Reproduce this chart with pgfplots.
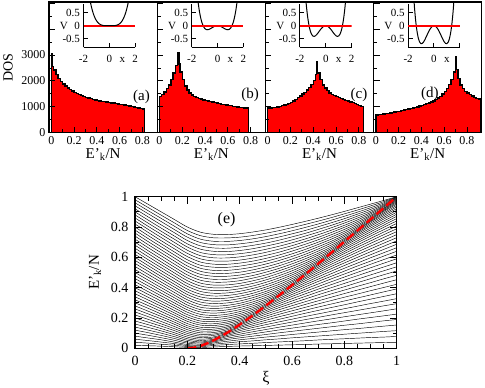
\documentclass[border=0pt]{standalone}
\usepackage{fontspec}
\setmainfont{Liberation Serif}
\usepackage{pgfplots}
\usepackage{pgfplotstable}
\pgfplotsset{compat=1.18}

\pgfplotstableread{
k   c0 c1 c2 c3 c4 c5 c6 c7 c8 c9 c10 c11 c12 c13 c14 c15 c16 c17 c18 c19 c20
xi  0 0.05 0.1 0.15 0.2 0.25 0.3 0.35 0.4 0.45 0.5 0.55 0.6 0.65 0.7 0.75 0.8 0.85 0.9 0.95 1
k0  0 0 0 0 0 0 0 0 0 0 0 0 0 0 0 0 0 0 0 0 0
k1  0.02 0.017 0.014 0.010 0.006 0.005 0.009 0.012 0.015 0.017 0.019 0.021 0.023 0.025 0.028 0.030 0.032 0.034 0.036 0.038 0.0396
k2  0.04 0.034 0.027 0.020 0.012 0.010 0.019 0.024 0.029 0.033 0.038 0.042 0.046 0.050 0.055 0.059 0.063 0.067 0.071 0.074 0.0784
k3  0.06 0.051 0.041 0.031 0.018 0.016 0.027 0.035 0.043 0.049 0.056 0.062 0.069 0.075 0.081 0.087 0.093 0.099 0.105 0.111 0.1164
k4  0.08 0.068 0.056 0.041 0.025 0.021 0.035 0.046 0.056 0.065 0.074 0.082 0.091 0.099 0.107 0.115 0.123 0.130 0.138 0.146 0.1536
k5  0.10 0.086 0.070 0.053 0.034 0.028 0.042 0.057 0.069 0.080 0.091 0.102 0.112 0.122 0.132 0.142 0.152 0.161 0.171 0.181 0.19
k6  0.12 0.103 0.085 0.065 0.043 0.035 0.048 0.066 0.081 0.095 0.108 0.121 0.133 0.145 0.157 0.168 0.180 0.192 0.203 0.214 0.2256
k7  0.14 0.120 0.100 0.077 0.053 0.042 0.054 0.076 0.093 0.109 0.124 0.139 0.153 0.167 0.181 0.194 0.208 0.221 0.234 0.247 0.2604
k8  0.16 0.138 0.115 0.090 0.063 0.051 0.060 0.084 0.105 0.123 0.140 0.157 0.173 0.189 0.204 0.220 0.235 0.250 0.265 0.280 0.2944
k9  0.18 0.156 0.130 0.103 0.074 0.060 0.068 0.092 0.116 0.137 0.156 0.174 0.192 0.210 0.227 0.244 0.261 0.278 0.295 0.311 0.3276
k10 0.20 0.173 0.146 0.117 0.086 0.070 0.075 0.099 0.126 0.149 0.171 0.191 0.211 0.231 0.250 0.269 0.287 0.306 0.324 0.342 0.36
k11 0.22 0.191 0.161 0.130 0.098 0.080 0.085 0.106 0.136 0.161 0.185 0.208 0.229 0.251 0.272 0.292 0.312 0.332 0.352 0.372 0.3916
k12 0.24 0.209 0.177 0.144 0.110 0.091 0.094 0.112 0.144 0.173 0.199 0.224 0.247 0.270 0.293 0.315 0.337 0.358 0.380 0.401 0.4224
k13 0.26 0.227 0.194 0.159 0.123 0.102 0.104 0.121 0.153 0.184 0.212 0.239 0.264 0.289 0.313 0.337 0.361 0.384 0.407 0.430 0.4524
k14 0.28 0.245 0.210 0.173 0.136 0.114 0.115 0.130 0.160 0.194 0.225 0.254 0.281 0.307 0.333 0.359 0.384 0.409 0.433 0.458 0.4816
k15 0.30 0.264 0.226 0.188 0.149 0.127 0.126 0.140 0.167 0.204 0.237 0.268 0.297 0.325 0.353 0.380 0.406 0.433 0.459 0.485 0.51
k16 0.32 0.282 0.243 0.203 0.163 0.139 0.138 0.150 0.176 0.212 0.248 0.281 0.312 0.342 0.372 0.400 0.428 0.456 0.484 0.511 0.5376
k17 0.34 0.300 0.260 0.219 0.178 0.153 0.150 0.162 0.185 0.220 0.259 0.294 0.327 0.359 0.390 0.420 0.450 0.479 0.508 0.536 0.5644
k18 0.36 0.319 0.277 0.234 0.192 0.166 0.162 0.173 0.195 0.227 0.269 0.306 0.342 0.375 0.407 0.439 0.470 0.501 0.531 0.561 0.5904
k19 0.38 0.337 0.294 0.250 0.207 0.180 0.176 0.185 0.206 0.236 0.277 0.318 0.355 0.390 0.424 0.458 0.490 0.522 0.554 0.585 0.6156
k20 0.40 0.356 0.311 0.267 0.222 0.194 0.189 0.198 0.217 0.246 0.285 0.328 0.368 0.405 0.441 0.475 0.509 0.543 0.575 0.608 0.64
k21 0.42 0.374 0.329 0.283 0.238 0.209 0.203 0.211 0.229 0.257 0.293 0.339 0.380 0.419 0.456 0.492 0.528 0.562 0.597 0.630 0.6636
k22 0.44 0.393 0.346 0.300 0.254 0.224 0.217 0.224 0.242 0.268 0.303 0.346 0.391 0.432 0.471 0.509 0.546 0.582 0.617 0.652 0.6864
k23 0.46 0.412 0.364 0.317 0.270 0.240 0.232 0.239 0.255 0.280 0.313 0.354 0.402 0.445 0.486 0.525 0.563 0.600 0.637 0.673 0.7084
k24 0.48 0.431 0.382 0.334 0.286 0.255 0.247 0.253 0.269 0.293 0.324 0.363 0.411 0.457 0.499 0.540 0.579 0.618 0.656 0.693 0.7296
k25 0.50 0.450 0.400 0.351 0.303 0.271 0.263 0.268 0.283 0.306 0.336 0.373 0.419 0.467 0.512 0.554 0.595 0.635 0.674 0.712 0.75
k26 0.52 0.469 0.419 0.369 0.320 0.288 0.278 0.283 0.297 0.320 0.349 0.384 0.427 0.477 0.524 0.568 0.610 0.651 0.692 0.731 0.7696
k27 0.54 0.488 0.437 0.387 0.337 0.305 0.295 0.299 0.312 0.334 0.362 0.396 0.437 0.486 0.535 0.581 0.625 0.667 0.708 0.749 0.7884
k28 0.56 0.508 0.456 0.405 0.355 0.322 0.311 0.315 0.328 0.348 0.375 0.408 0.447 0.494 0.545 0.593 0.638 0.682 0.724 0.766 0.8064
k29 0.58 0.527 0.474 0.423 0.372 0.339 0.328 0.331 0.344 0.363 0.390 0.421 0.459 0.502 0.554 0.604 0.651 0.696 0.740 0.782 0.8236
k30 0.60 0.546 0.493 0.441 0.390 0.357 0.345 0.348 0.360 0.379 0.404 0.435 0.471 0.513 0.562 0.615 0.663 0.709 0.754 0.798 0.84
k31 0.62 0.566 0.512 0.460 0.409 0.375 0.363 0.365 0.376 0.395 0.419 0.449 0.484 0.524 0.571 0.623 0.675 0.722 0.768 0.812 0.8556
k32 0.64 0.585 0.532 0.479 0.427 0.393 0.381 0.382 0.393 0.411 0.435 0.464 0.497 0.536 0.580 0.631 0.684 0.734 0.781 0.826 0.8704
k33 0.66 0.605 0.551 0.498 0.446 0.411 0.399 0.400 0.411 0.428 0.451 0.479 0.511 0.549 0.591 0.639 0.693 0.745 0.793 0.839 0.8844
k34 0.68 0.625 0.570 0.517 0.465 0.430 0.417 0.418 0.428 0.445 0.467 0.495 0.526 0.562 0.602 0.648 0.702 0.755 0.805 0.852 0.8976
k35 0.70 0.644 0.590 0.536 0.484 0.449 0.436 0.437 0.446 0.463 0.484 0.511 0.541 0.576 0.615 0.658 0.710 0.764 0.815 0.863 0.91
k36 0.72 0.664 0.610 0.556 0.504 0.468 0.455 0.455 0.465 0.480 0.502 0.527 0.557 0.590 0.627 0.669 0.718 0.771 0.825 0.874 0.9216
k37 0.74 0.684 0.630 0.576 0.523 0.488 0.475 0.475 0.483 0.499 0.519 0.544 0.573 0.605 0.641 0.681 0.726 0.778 0.834 0.884 0.9324
k38 0.76 0.704 0.650 0.596 0.543 0.508 0.494 0.494 0.502 0.517 0.537 0.561 0.589 0.620 0.655 0.694 0.737 0.785 0.840 0.893 0.9424
k39 0.78 0.724 0.670 0.616 0.564 0.528 0.514 0.514 0.522 0.536 0.556 0.579 0.606 0.636 0.670 0.706 0.747 0.794 0.847 0.902 0.9516
k40 0.80 0.744 0.690 0.636 0.584 0.548 0.535 0.534 0.542 0.556 0.574 0.597 0.623 0.652 0.685 0.720 0.759 0.803 0.854 0.908 0.96
k41 0.82 0.765 0.710 0.657 0.605 0.569 0.555 0.554 0.562 0.575 0.593 0.615 0.641 0.669 0.700 0.734 0.771 0.813 0.861 0.914 0.9676
k42 0.84 0.785 0.731 0.678 0.626 0.590 0.576 0.575 0.582 0.595 0.613 0.634 0.659 0.686 0.716 0.749 0.784 0.824 0.869 0.920 0.9744
k43 0.86 0.805 0.752 0.699 0.647 0.611 0.597 0.596 0.603 0.616 0.633 0.654 0.677 0.704 0.732 0.764 0.798 0.835 0.877 0.925 0.9804
k44 0.88 0.826 0.772 0.720 0.668 0.632 0.618 0.617 0.624 0.636 0.653 0.673 0.696 0.721 0.749 0.779 0.811 0.847 0.886 0.932 0.9856
k45 0.90 0.846 0.793 0.741 0.689 0.654 0.640 0.638 0.645 0.657 0.674 0.693 0.715 0.740 0.766 0.795 0.826 0.859 0.895 0.938 0.99
k46 0.92 0.867 0.814 0.763 0.711 0.676 0.662 0.660 0.667 0.679 0.694 0.713 0.735 0.758 0.784 0.811 0.840 0.872 0.905 0.944 0.9936
k47 0.94 0.888 0.836 0.784 0.733 0.698 0.684 0.682 0.689 0.700 0.716 0.734 0.755 0.777 0.802 0.828 0.855 0.885 0.916 0.951 0.9964
k48 0.96 0.908 0.857 0.806 0.755 0.720 0.706 0.705 0.711 0.722 0.737 0.755 0.775 0.797 0.820 0.845 0.871 0.898 0.927 0.959 0.9984
k49 0.98 0.929 0.878 0.828 0.777 0.743 0.729 0.728 0.733 0.744 0.759 0.776 0.796 0.817 0.839 0.862 0.887 0.912 0.939 0.967 0.9996
k50 1 0.95 0.90 0.85 0.80 0.766 0.752 0.750 0.756 0.767 0.781 0.798 0.817 0.837 0.858 0.880 0.903 0.927 0.951 0.975 1
}\levelsraw
\pgfplotstabletranspose[colnames from=k]\levels\levelsraw

\pgfplotsset{
  /pgf/number format/assume math mode=true,
  dospanel/.style={
    scale only axis, width=108.2pt, height=130.7pt, anchor=south west,
    xmin=-0.02, xmax=0.93, ymin=0, ymax=5050,
    xtick={0,0.2,0.4,0.6,0.8}, minor x tick num=1,
    ytick={0,1000,2000,3000,4000,5000}, minor y tick num=1,
    tick pos=left, tick align=inside,
    major tick length=6pt, minor tick length=3.5pt,
    tick style={black, line width=0.9pt},
    axis line style={line width=1.3pt},
    axis on top,
    tick label style={font=\fontsize{12}{12}\selectfont},
    yticklabels={},
    xlabel={E'\textsubscript{k}/N},
    every axis x label/.style={at={(axis description cs:0.5,0)}, anchor=center,
      yshift=-22pt, font=\fontsize{15}{15}\selectfont},
  },
  hist/.style={const plot, fill=red, draw=black, line width=1.4pt},
  inset/.style={
    scale only axis, width=51.7pt, height=43.5pt, anchor=south west,
    xmin=-2, xmax=2, ymin=-0.85, ymax=0.85,
    axis lines=left, axis line style={-, line width=1.1pt},
    xtick={-2,0,2}, ytick={-0.5,0,0.5},
    tick align=inside, major tick length=4.5pt,
    tick style={black, line width=1pt},
    tick label style={font=\fontsize{11}{11}\selectfont},
    xticklabel style={yshift=-4pt},
    xlabel={x}, ylabel={V},
    every axis x label/.style={at={(axis description cs:0.75,0)}, anchor=base,
      yshift=-15pt, font=\fontsize{11}{11}\selectfont},
    every axis y label/.style={at={(axis description cs:-0.38,0.5)}, anchor=center,
      font=\fontsize{11}{11}\selectfont},
  },
  vcurve/.style={black, line width=1pt, smooth},
}

\begin{document}
\begin{tikzpicture}
\path[use as bounding box] (0pt,0pt) rectangle (485pt,388pt);

% ---------------- panel (a)
\begin{axis}[dospanel, at={(49pt,255.3pt)},
  yticklabels={0,1000,2000,3000,{},{}},
  ylabel={DOS},
  every axis y label/.style={at={(axis description cs:0,0.5)}, xshift=-41pt, rotate=90,
    anchor=center, font=\fontsize{14}{14}\selectfont}]
\addplot[hist] coordinates {(0,3050) (0.005,2550) (0.02,2420) (0.04,2250) (0.06,2100) (0.08,1980) (0.10,1880) (0.12,1800) (0.14,1730) (0.16,1660) (0.18,1610) (0.20,1560) (0.22,1510) (0.24,1470) (0.26,1430) (0.28,1400) (0.30,1370) (0.32,1340) (0.34,1310) (0.36,1290) (0.38,1270) (0.40,1250) (0.42,1230) (0.44,1215) (0.46,1200) (0.48,1185) (0.50,1170) (0.52,1155) (0.54,1140) (0.56,1125) (0.58,1110) (0.60,1095) (0.62,1080) (0.64,1065) (0.66,1050) (0.68,1035) (0.70,1020) (0.72,1000) (0.74,980) (0.76,960) (0.78,940) (0.80,920) (0.82,920)} \closedcycle;
\node[font=\fontsize{15}{15}\selectfont] at (rel axis cs:0.855,0.275) {(a)};
\end{axis}

% ---------------- panel (b)
\begin{axis}[dospanel, at={(157.2pt,255.3pt)}]
\addplot[hist] coordinates {(0,1400) (0.02,1480) (0.04,1580) (0.06,1700) (0.08,1850) (0.10,2050) (0.12,2300) (0.14,2600) (0.16,3080) (0.17,2650) (0.18,2350) (0.20,2050) (0.22,1800) (0.24,1650) (0.26,1540) (0.28,1450) (0.30,1400) (0.32,1360) (0.34,1330) (0.36,1300) (0.38,1270) (0.40,1250) (0.42,1230) (0.44,1210) (0.46,1190) (0.48,1165) (0.50,1140) (0.52,1120) (0.54,1100) (0.56,1085) (0.58,1070) (0.60,1055) (0.62,1040) (0.64,1020) (0.66,1005) (0.68,990) (0.70,980) (0.72,970) (0.74,960) (0.76,950) (0.78,950)} \closedcycle;
\node[font=\fontsize{15}{15}\selectfont] at (rel axis cs:0.858,0.29) {(b)};
\end{axis}

% ---------------- panel (c)
\begin{axis}[dospanel, at={(265.4pt,255.3pt)}]
\addplot[hist] coordinates {(0,950) (0.02,960) (0.04,970) (0.06,985) (0.08,1000) (0.10,1020) (0.12,1040) (0.14,1065) (0.16,1095) (0.18,1130) (0.20,1170) (0.22,1220) (0.24,1280) (0.26,1350) (0.28,1420) (0.30,1490) (0.32,1560) (0.34,1650) (0.36,1750) (0.38,1870) (0.40,2020) (0.42,2250) (0.43,2750) (0.44,2300) (0.46,2050) (0.48,1850) (0.50,1720) (0.52,1620) (0.54,1540) (0.56,1480) (0.58,1430) (0.60,1390) (0.62,1350) (0.64,1310) (0.66,1280) (0.68,1250) (0.70,1220) (0.72,1190) (0.74,1160) (0.76,1130) (0.78,1100) (0.80,1060) (0.82,1020) (0.84,1020)} \closedcycle;
\node[font=\fontsize{15}{15}\selectfont] at (rel axis cs:0.865,0.29) {(c)};
\end{axis}

% ---------------- panel (d)
\begin{axis}[dospanel, at={(373.6pt,255.3pt)}]
\addplot[hist] coordinates {(0,690) (0.02,700) (0.04,710) (0.06,720) (0.08,735) (0.10,750) (0.12,765) (0.14,780) (0.16,795) (0.18,810) (0.20,830) (0.22,850) (0.24,870) (0.26,890) (0.28,915) (0.30,935) (0.32,955) (0.34,980) (0.36,1000) (0.38,1030) (0.40,1060) (0.42,1090) (0.44,1120) (0.46,1150) (0.48,1190) (0.50,1230) (0.52,1280) (0.54,1340) (0.56,1410) (0.58,1490) (0.60,1590) (0.62,1710) (0.64,1860) (0.66,2050) (0.68,2350) (0.70,2950) (0.71,2450) (0.72,2100) (0.74,1850) (0.76,1700) (0.78,1600) (0.80,1530) (0.82,1470) (0.84,1420) (0.86,1370) (0.88,1330) (0.90,1300) (0.92,1300)} \closedcycle;
\node[font=\fontsize{15}{15}\selectfont] at (rel axis cs:0.52,0.30) {(d)};
\end{axis}

% ---------------- insets
\begin{axis}[inset, at={(83.5pt,340.5pt)}]
\addplot[draw=red, line width=1.6pt] coordinates {(-2,0) (2,0)};
\addplot[vcurve] coordinates {(-1.6,1.311) (-1.5,1.0125) (-1.4,0.768) (-1.3,0.571) (-1.2,0.415) (-1.1,0.293) (-1.0,0.2) (-0.9,0.131) (-0.8,0.082) (-0.7,0.048) (-0.6,0.026) (-0.5,0.0125) (-0.4,0.005) (-0.3,0.0016) (-0.2,0.0003) (-0.1,0) (0,0) (0.1,0) (0.2,0.0003) (0.3,0.0016) (0.4,0.005) (0.5,0.0125) (0.6,0.026) (0.7,0.048) (0.8,0.082) (0.9,0.131) (1.0,0.2) (1.1,0.293) (1.2,0.415) (1.3,0.571) (1.4,0.768) (1.5,1.0125) (1.6,1.311)};
\end{axis}

\begin{axis}[inset, at={(191.7pt,340.5pt)}]
\addplot[vcurve] coordinates {(-1.6,1.3414) (-1.5,0.9) (-1.4,0.5566) (-1.3,0.2974) (-1.2,0.1094) (-1.1,-0.0194) (-1.0,-0.1) (-0.9,-0.1426) (-0.8,-0.1562) (-0.7,-0.149) (-0.6,-0.1282) (-0.5,-0.1) (-0.4,-0.0698) (-0.3,-0.0418) (-0.2,-0.0194) (-0.1,-0.005) (0,0) (0.1,-0.005) (0.2,-0.0194) (0.3,-0.0418) (0.4,-0.0698) (0.5,-0.1) (0.6,-0.1282) (0.7,-0.149) (0.8,-0.1562) (0.9,-0.1426) (1.0,-0.1) (1.1,-0.0194) (1.2,0.1094) (1.3,0.2974) (1.4,0.5566) (1.5,0.9) (1.6,1.3414)};
\addplot[draw=red, line width=1.6pt] coordinates {(-2,0) (2,0)};
\end{axis}

\begin{axis}[inset, at={(299.9pt,340.5pt)}]
\addplot[vcurve] coordinates {(-1.6,1.3722) (-1.5,0.7875) (-1.4,0.345) (-1.3,0.0237) (-1.2,-0.1958) (-1.1,-0.3315) (-1.0,-0.4) (-0.9,-0.4163) (-0.8,-0.3942) (-0.7,-0.3459) (-0.6,-0.2822) (-0.5,-0.2125) (-0.4,-0.1446) (-0.3,-0.0851) (-0.2,-0.039) (-0.1,-0.0099) (0,0) (0.1,-0.0099) (0.2,-0.039) (0.3,-0.0851) (0.4,-0.1446) (0.5,-0.2125) (0.6,-0.2822) (0.7,-0.3459) (0.8,-0.3942) (0.9,-0.4163) (1.0,-0.4) (1.1,-0.3315) (1.2,-0.1958) (1.3,0.0237) (1.4,0.345) (1.5,0.7875) (1.6,1.3722)};
\addplot[draw=red, line width=1.6pt] coordinates {(-2,0) (2,0)};
\end{axis}

\begin{axis}[inset, at={(408.1pt,340.5pt)}, xticklabels={-2,0,{}}]
\addplot[vcurve] coordinates {(-1.6,1.4029) (-1.5,0.675) (-1.4,0.1333) (-1.3,-0.2501) (-1.2,-0.5011) (-1.1,-0.6437) (-1.0,-0.7) (-0.9,-0.6901) (-0.8,-0.6323) (-0.7,-0.5429) (-0.6,-0.4363) (-0.5,-0.325) (-0.4,-0.2195) (-0.3,-0.1285) (-0.2,-0.0587) (-0.1,-0.0149) (0,0) (0.1,-0.0149) (0.2,-0.0587) (0.3,-0.1285) (0.4,-0.2195) (0.5,-0.325) (0.6,-0.4363) (0.7,-0.5429) (0.8,-0.6323) (0.9,-0.6901) (1.0,-0.7) (1.1,-0.6437) (1.2,-0.5011) (1.3,-0.2501) (1.4,0.1333) (1.5,0.675) (1.6,1.4029)};
\addplot[draw=red, line width=1.6pt] coordinates {(-2,0) (2,0)};
\end{axis}

% ---------------- panel (e)
\begin{axis}[
  at={(135pt,39.7pt)}, anchor=south west, scale only axis,
  width=261.7pt, height=151.6pt,
  xmin=0, xmax=1, ymin=0, ymax=1,
  xtick={0,0.2,0.4,0.6,0.8,1}, ytick={0,0.2,0.4,0.6,0.8,1},
  minor x tick num=3, minor y tick num=1,
  tick align=inside, major tick length=7pt, minor tick length=4pt,
  tick style={black, line width=0.9pt},
  axis line style={line width=1.3pt},
  axis on top,
  tick label style={font=\fontsize{14}{14}\selectfont},
  xticklabel style={yshift=-4pt}, yticklabel style={xshift=-3pt},
  xlabel={ξ}, ylabel={E'\textsubscript{k}/N},
  every axis x label/.style={at={(axis description cs:0.5,0)}, anchor=center,
    yshift=-29.7pt, font=\fontsize{16}{16}\selectfont},
  every axis y label/.style={at={(axis description cs:0,0.5)}, xshift=-40pt, rotate=90,
    anchor=center, font=\fontsize{15}{15}\selectfont},
]
\pgfplotsinvokeforeach{0,...,50}{
  \addplot[black, line width=0.45pt, smooth, tension=0.5] table[x=xi, y=k#1] {\levels};
}
\addplot[red, line width=2.4pt, dash pattern=on 9pt off 4pt, smooth] coordinates {(0.2,0) (0.225,0.0043) (0.25,0.0156) (0.275,0.032) (0.3,0.0521) (0.35,0.1004) (0.4,0.1563) (0.45,0.217) (0.5,0.2813) (0.55,0.348) (0.6,0.4167) (0.65,0.4868) (0.7,0.558) (0.75,0.6302) (0.8,0.7031) (0.85,0.7767) (0.9,0.8507) (0.95,0.9252) (1.0,1.0)};
\node[font=\fontsize{16}{16}\selectfont] at (rel axis cs:0.35,0.846) {(e)};
\end{axis}
\end{tikzpicture}
\end{document}
